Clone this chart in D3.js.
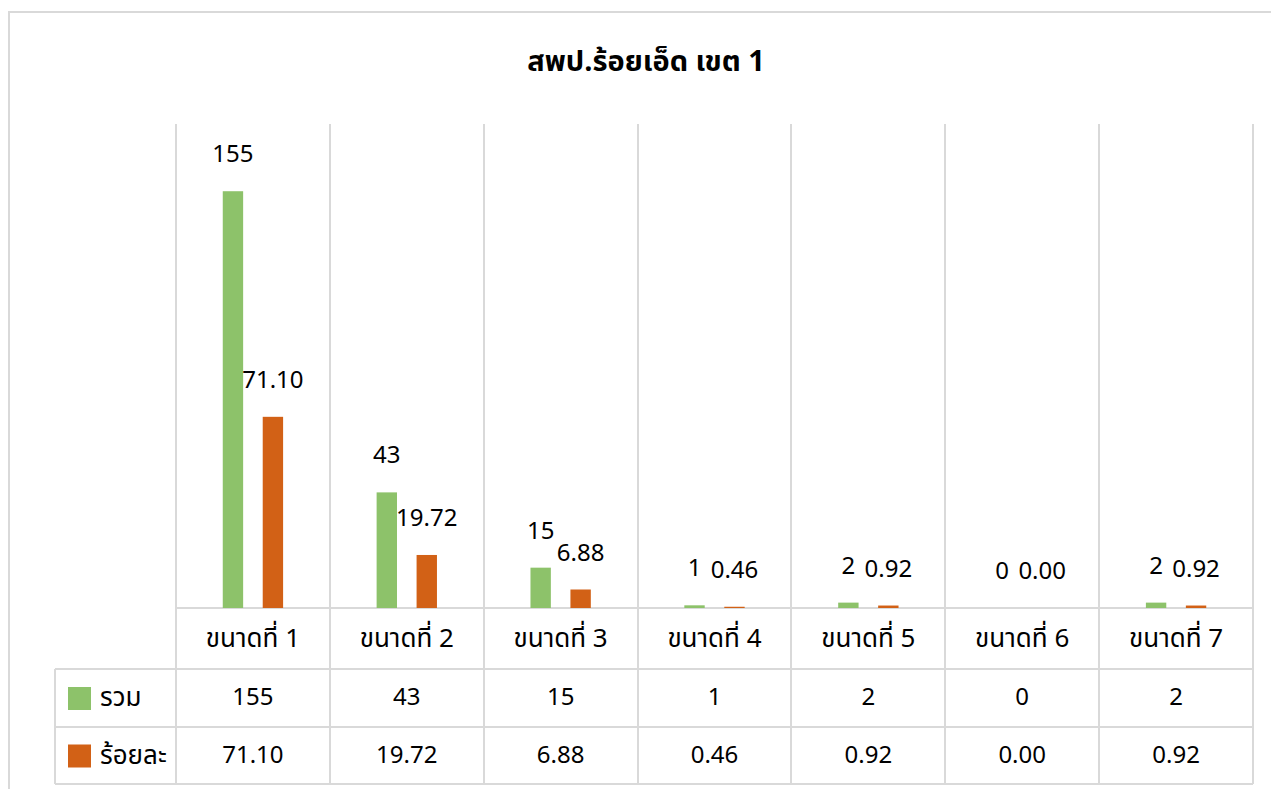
<!DOCTYPE html>
<html lang="th">
<head>
    <meta charset="UTF-8">
    <title>สพป.ร้อยเอ็ด เขต 1</title>
    <style>
        body {
            margin: 0;
            background: #fff;
            font-family: Tahoma, "Noto Sans Thai", "Noto Sans", sans-serif;
        }
        .grid line { stroke: #d9d9d9; stroke-width: 2; shape-rendering: crispEdges; }
        .lbl { font-size: 24px; fill: #000; text-anchor: middle; }
        .cell { font-size: 24px; fill: #000; text-anchor: middle; dominant-baseline: central; }
        .thai { font-size: 26px; }
    </style>
</head>
<body>
    <svg id="chart" width="1271" height="789"></svg>

    <script src="https://d3js.org/d3.v7.min.js"></script>
    <script>
        const title = 'สพป.ร้อยเอ็ด เขต 1';
        const categories = ['ขนาดที่ 1', 'ขนาดที่ 2', 'ขนาดที่ 3', 'ขนาดที่ 4', 'ขนาดที่ 5', 'ขนาดที่ 6', 'ขนาดที่ 7'];
        const seriesNames = ['รวม', 'ร้อยละ'];
        const totalValues = [155, 43, 15, 1, 2, 0, 2];
        const percentValues = [71.10, 19.72, 6.88, 0.46, 0.92, 0.00, 0.92];
        const colors = ['#8dc26a', '#d26116'];

        const seriesFormats = [d3.format('d'), d3.format('.2f')];
        const series = seriesNames.map((name, i) => ({
            name,
            color: colors[i],
            fmt: seriesFormats[i],
            values: i === 0 ? totalValues : percentValues
        }));

        const svg = d3.select('#chart');

        // plot box
        const plot = { left: 176, right: 1253, top: 124, bottom: 608 };
        const tableRows = [608, 669, 727, 784];
        const legendLeft = 55;

        const x = d3.scaleBand().domain(categories).range([plot.left, plot.right]).padding(0);
        const xs = d3.scaleBand().domain(seriesNames).range([0, x.bandwidth()])
            .paddingInner(0.49).paddingOuter(1.17);
        const y = d3.scaleLinear().domain([0, 180]).range([plot.bottom, plot.top]);

        // outer chart border
        svg.append('rect')
            .attr('x', 9).attr('y', 12)
            .attr('width', 1300).attr('height', 800)
            .attr('fill', 'none').attr('stroke', '#d9d9d9').attr('stroke-width', 2);

        svg.append('text')
            .attr('x', 646).attr('y', 71)
            .attr('text-anchor', 'middle')
            .attr('font-size', 29).attr('font-weight', 'bold')
            .text(title);

        // grid + table lines
        const grid = svg.append('g').attr('class', 'grid');
        const bounds = categories.map(c => x(c)).concat([plot.right]);
        grid.selectAll('.v').data(bounds).enter().append('line')
            .attr('x1', d => d).attr('x2', d => d)
            .attr('y1', plot.top).attr('y2', tableRows[3]);
        grid.selectAll('.h').data(tableRows).enter().append('line')
            .attr('x1', (d, i) => i === 0 ? plot.left : legendLeft)
            .attr('x2', plot.right)
            .attr('y1', d => d).attr('y2', d => d);
        grid.append('line')
            .attr('x1', legendLeft).attr('x2', legendLeft)
            .attr('y1', tableRows[1]).attr('y2', tableRows[3]);

        // bars
        const groups = svg.selectAll('.grp').data(series).enter().append('g');
        groups.selectAll('rect')
            .data(s => s.values.map((v, i) => ({ s, v, c: categories[i] })))
            .enter().append('rect')
            .attr('x', d => x(d.c) + xs(d.s.name))
            .attr('y', d => y(d.v))
            .attr('width', xs.bandwidth())
            .attr('height', d => y(0) - y(d.v))
            .attr('fill', d => d.s.color);

        groups.selectAll('text')
            .data(s => s.values.map((v, i) => ({ s, v, c: categories[i] })))
            .enter().append('text')
            .attr('class', 'lbl')
            .attr('x', d => x(d.c) + xs(d.s.name) + xs.bandwidth() / 2)
            .attr('y', d => y(d.v) - 29)
            .text(d => d.s.fmt(d.v));

        // data table
        svg.selectAll('.cat').data(categories).enter().append('text')
            .attr('class', 'cell thai')
            .attr('x', d => x(d) + x.bandwidth() / 2)
            .attr('y', (tableRows[0] + tableRows[1]) / 2)
            .text(d => d);

        series.forEach((s, r) => {
            const cy = (tableRows[r + 1] + tableRows[r + 2]) / 2;
            svg.append('rect')
                .attr('x', 68).attr('y', cy - 11)
                .attr('width', 23).attr('height', 23)
                .attr('fill', s.color);
            svg.append('text')
                .attr('class', 'cell thai')
                .style('text-anchor', 'start')
                .attr('x', 100).attr('y', cy)
                .text(s.name);
            svg.selectAll('.row' + r).data(s.values).enter().append('text')
                .attr('class', 'cell')
                .attr('x', (d, i) => x(categories[i]) + x.bandwidth() / 2)
                .attr('y', cy)
                .text(d => s.fmt(d));
        });
    </script>
</body>
</html>
